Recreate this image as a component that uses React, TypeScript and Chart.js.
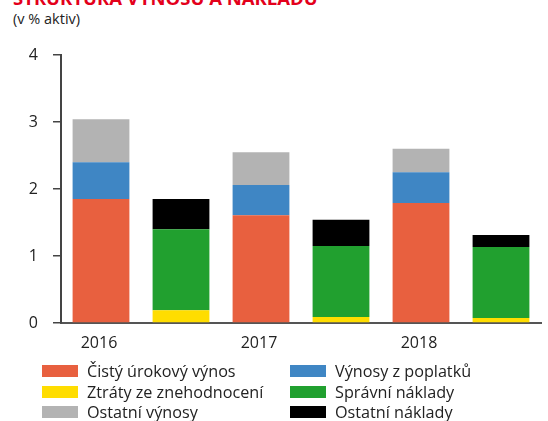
import React, { useEffect, useRef } from "react";
import { Chart, registerables } from "chart.js";

Chart.register(...registerables);

const years = ["2016", "2017", "2018"];
const cistyUrokovyVynos = [1.85, 1.61, 1.79];
const vynosyZPoplatku = [0.55, 0.45, 0.46];
const ostatniVynosy = [0.64, 0.49, 0.35];
const ztratyZeZnehodnoceni = [0.19, 0.09, 0.075];
const spravniNaklady = [1.21, 1.06, 1.06];
const ostatniNaklady = [0.45, 0.39, 0.18];
const yTicks = [0, 1, 2, 3, 4];

const FONT = "'Open Sans', 'Noto Sans', sans-serif";

const incomeSeries = (vals: number[]) => vals.flatMap((v) => [v, null]);
const costSeries = (vals: number[]) => vals.flatMap((v) => [null, v]);

const legendItems = [
  { label: "Čistý úrokový výnos", color: "#e8603f" },
  { label: "Výnosy z poplatků", color: "#3f86c4" },
  { label: "Ztráty ze znehodnocení", color: "#ffdd00" },
  { label: "Správní náklady", color: "#21a02f" },
  { label: "Ostatní výnosy", color: "#b3b3b3" },
  { label: "Ostatní náklady", color: "#000000" },
];

export default function App() {
  const ref = useRef<HTMLCanvasElement | null>(null);

  useEffect(() => {
    if (!ref.current) return;
    const labels = years.flatMap((y) => [y, ""]);
    const chart = new Chart(ref.current, {
      type: "bar",
      data: {
        labels,
        datasets: [
          { label: "Čistý úrokový výnos", data: incomeSeries(cistyUrokovyVynos), backgroundColor: "#e8603f" },
          { label: "Výnosy z poplatků", data: incomeSeries(vynosyZPoplatku), backgroundColor: "#3f86c4" },
          { label: "Ostatní výnosy", data: incomeSeries(ostatniVynosy), backgroundColor: "#b3b3b3" },
          { label: "Ztráty ze znehodnocení", data: costSeries(ztratyZeZnehodnoceni), backgroundColor: "#ffdd00" },
          { label: "Správní náklady", data: costSeries(spravniNaklady), backgroundColor: "#21a02f" },
          { label: "Ostatní náklady", data: costSeries(ostatniNaklady), backgroundColor: "#000000" },
        ],
      },
      options: {
        animation: false,
        responsive: false,
        maintainAspectRatio: false,
        layout: { padding: { left: 0, top: 55, right: 7, bottom: 68 } },
        datasets: { bar: { categoryPercentage: 1, barPercentage: 0.71, borderWidth: 0 } },
        plugins: { legend: { display: false }, tooltip: { enabled: false }, title: { display: false } },
        scales: {
          x: {
            stacked: true,
            grid: { display: false, drawTicks: false },
            border: { display: true, color: "#555555", width: 2 },
            ticks: {
              color: "#222222",
              font: { family: FONT, size: 16 },
              padding: 11,
              maxRotation: 0,
              autoSkip: false,
              labelOffset: -2,
            },
            afterFit: (s: any) => {
              s.height = 30;
            },
          },
          y: {
            stacked: true,
            min: 0,
            max: 4,
            afterBuildTicks: (s: any) => {
              s.ticks = yTicks.map((v) => ({ value: v }));
            },
            grid: { display: true, drawOnChartArea: false, drawTicks: true, tickLength: 8, color: "#444444", lineWidth: 1.5 },
            border: { display: true, color: "#444444", width: 2 },
            ticks: {
              color: "#222222",
              font: { family: FONT, size: 16 },
              padding: 15,
            },
            afterFit: (s: any) => {
              s.width = 61;
            },
          },
        },
      },
    });
    return () => chart.destroy();
  }, []);

  return (
    <div style={{ position: "absolute", left: 0, top: 0, width: 548, height: 421, overflow: "hidden", background: "#fff", fontFamily: FONT }}>
      <div style={{ position: "absolute", left: 13, top: -11, fontSize: 18.5, lineHeight: "18px", fontWeight: 700, color: "#e3001b", whiteSpace: "nowrap" }}>
        STRUKTURA VÝNOSŮ A NÁKLADŮ
      </div>
      <div style={{ position: "absolute", left: 13, top: 10, fontSize: 14.5, lineHeight: "18px", color: "#222", whiteSpace: "nowrap" }}>
        (v % aktiv)
      </div>
      <canvas ref={ref} width={548} height={421} style={{ position: "absolute", left: 0, top: 0 }} />
      <div style={{ position: "absolute", left: 42, top: 361, width: 500, display: "grid", gridTemplateColumns: "248px 248px", rowGap: 0 }}>
        {legendItems.map((it) => (
          <div key={it.label} style={{ display: "flex", alignItems: "center", height: 20.5, whiteSpace: "nowrap" }}>
            <span style={{ display: "inline-block", width: 36, height: 12, background: it.color, marginRight: 9 }} />
            <span style={{ fontSize: 16.2, color: "#222", lineHeight: "20px" }}>{it.label}</span>
          </div>
        ))}
      </div>
    </div>
  );
}
